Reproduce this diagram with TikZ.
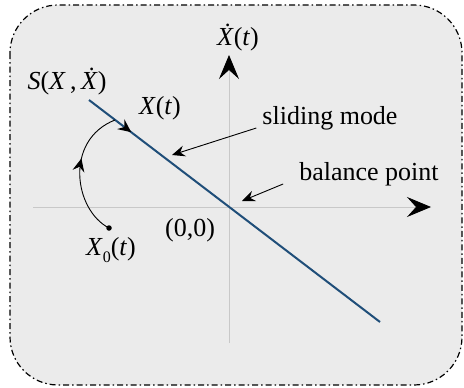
\documentclass[tikz,border=0pt]{standalone}
\usepackage{fontspec}
\setmainfont{Liberation Serif}
\usetikzlibrary{arrows.meta,decorations.markings}
\definecolor{bgc}{HTML}{EBEBEB}
\definecolor{axc}{HTML}{C8C8C8}
\definecolor{slc}{HTML}{1F4E79}
\begin{document}
\begin{tikzpicture}[x=1pt,y=-1pt,
  lbl/.style={font=\fontsize{26}{30}\selectfont, inner sep=0pt},
  bigtip/.style={-{Stealth[black,length=24pt,width=20pt,inset=9pt]}},
  smalltip/.style={-{Stealth[black,length=13pt,width=11pt,inset=4.5pt]}},
  ptr/.style={black, line width=0.9pt, smalltip}]
\useasboundingbox (0,0) rectangle (464,388);
\draw[fill=bgc, rounded corners=48pt, line width=1.2pt,
      dash pattern=on 6pt off 3pt on 1.5pt off 3pt] (10,5) rectangle (462,385);
% axes
\coordinate (xs) at (33,207);
\coordinate (xe) at (431,207);
\coordinate (ys) at (229,343);
\coordinate (ye) at (229,55);
\draw[axc, line width=0.8pt, bigtip] (xs) -- (xe);
\draw[axc, line width=0.8pt, bigtip] (ys) -- (ye);
% sliding surface
\coordinate (ls) at (89,100);
\coordinate (le) at (380,322);
\draw[slc, line width=2pt, decoration={markings, mark=at position 0.145 with {\arrow{Stealth[black,length=13pt,width=12pt,inset=4.5pt]}}}, postaction={decorate}] (ls) -- (le);
% trajectory
\node[circle, fill=black, inner sep=0pt, minimum size=5.5pt] (dot) at (109,228) {};
\coordinate (hit) at (115,120);
\draw[black, line width=0.9pt, decoration={markings, mark=at position 0.6 with {\arrow{Stealth[black,length=13pt,width=12pt,inset=4.5pt]}}}, postaction={decorate}]
  (dot.center) .. controls (74,210) and (64,140) .. (hit);
% labels
\node[lbl] (xdot) at (238,38) {\textit{\.X}(\textit{t})};
\node[lbl] (S) at (67,82) {\textit{S}(\textit{X}\,,\,\textit{\.X})};
\node[lbl] (Xt) at (160,108) {\textit{X}(\textit{t})};
\node[lbl] (sm) at (330,118) {sliding mode};
\node[lbl] (bp) at (369,174) {balance point};
\node[lbl] (zero) at (190,230) {(0,0)};
\node[lbl] (X0) at (111,250) {\textit{X}\raisebox{-0.3em}{\fontsize{16}{16}\selectfont 0}(\textit{t})};
% pointers
\coordinate (smtip) at (172,155);
\coordinate (bptip) at (242,201);
\draw[ptr] (sm.south west) ++(-6,-2) coordinate (smfrom) -- (smtip);
\draw[ptr] (bp.south west) ++(-16,-2) coordinate (bpfrom) -- (bptip);
\end{tikzpicture}
\end{document}
